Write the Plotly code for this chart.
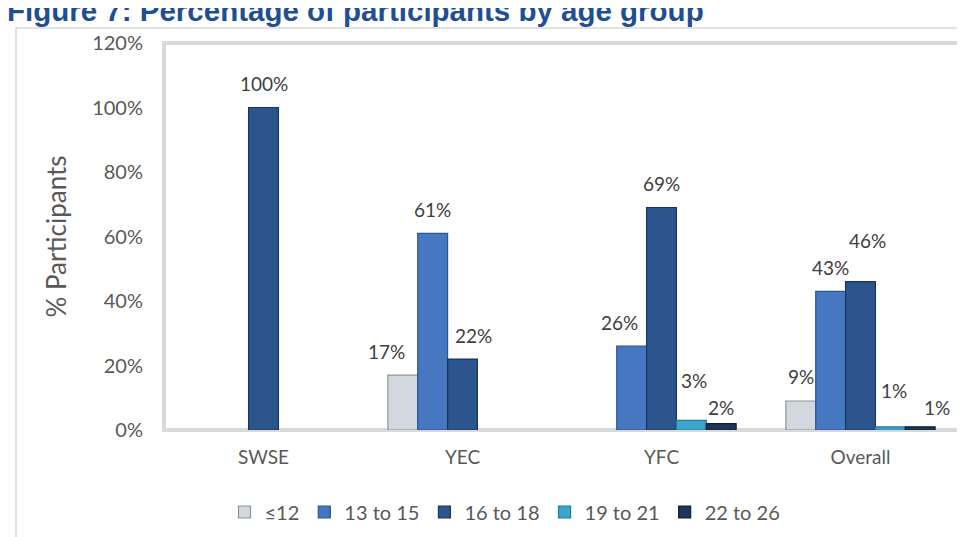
import plotly.graph_objects as go

# ---- data ----
categories = ["SWSE", "YEC", "YFC", "Overall"]
series_names = ["≤12", "13 to 15", "16 to 18", "19 to 21", "22 to 26"]
age_le12 = [0, 17, 0, 9]
age_13_15 = [0, 61, 26, 43]
age_16_18 = [100, 22, 69, 46]
age_19_21 = [0, 0, 3, 1]
age_22_26 = [0, 0, 2, 1]
y_tick_values = [0, 20, 40, 60, 80, 100, 120]
y_tick_labels = ["0%", "20%", "40%", "60%", "80%", "100%", "120%"]
title_text = "Figure 7: Percentage of participants by age group"
y_title = "% Participants"

series_values = [age_le12, age_13_15, age_16_18, age_19_21, age_22_26]

# ---- styles ----
fills = ["#D3D7DE", "#4678C2", "#2C558E", "#3AA6CB", "#1E3659"]
edges = ["#8E949C", "#2A5596", "#19345E", "#227A99", "#101E33"]
FONT = "Lato"

W, H = 965, 537
L, R, T, B = 156, 13, 35, 115
PW, PH = W - L - R, H - T - B
BARGAP = 0.25
bar_px = PW / len(categories) * (1 - BARGAP) / len(series_names)

# manual label nudges (px) like the hand-placed labels of the original
label_nudge = {
    (0, 1): (-16, 0),
    (2, 1): (11, 0),
    (1, 2): (-12, 0),
    (3, 2): (3, 16),
    (4, 2): (0, -8),
    (2, 3): (7, 17),
    (3, 3): (4, 12),
    (4, 3): (17, -5),
}

fig = go.Figure()
for i, (name, vals) in enumerate(zip(series_names, series_values)):
    fig.add_trace(go.Bar(
        name=name, x=categories, y=[v if v else None for v in vals],
        marker=dict(color=fills[i], line=dict(color=edges[i], width=1.2)),
        hoverinfo="skip",
    ))

annotations = []
for i, vals in enumerate(series_values):
    for j, v in enumerate(vals):
        if not v:
            continue
        nx, ny = label_nudge.get((i, j), (0, 0))
        annotations.append(dict(
            x=categories[j], y=v, xref="x", yref="y",
            xshift=(i - (len(series_names) - 1) / 2) * bar_px + nx,
            yshift=24 + ny, yanchor="middle", xanchor="center",
            text=f"{v}%", showarrow=False,
            font=dict(family=FONT, size=19, color="#404040"),
        ))

def px_x(p):
    return (p - L) / PW

def px_y(p):
    return (H - B - p) / PH

annotations.append(dict(
    x=px_x(-3), y=px_y(2), xref="paper", yref="paper",
    xanchor="left", yanchor="middle", showarrow=False,
    text=f"<b>{title_text}</b>",
    font=dict(family="Liberation Sans", size=29.5, color="#1F4E96"),
))

shapes = [
    # outer chart border
    dict(type="rect", xref="paper", yref="paper",
         x0=px_x(8), x1=px_x(962), y0=px_y(560), y1=px_y(20),
         line=dict(color="#D9D9D9", width=1.5), layer="below"),
    # plot frame
    dict(type="rect", xref="paper", yref="paper", x0=0, x1=1, y0=0, y1=1,
         line=dict(color="#D9D9D9", width=4), layer="below"),
]

fig.update_layout(
    width=W, height=H,
    margin=dict(l=L, r=R, t=T, b=B),
    paper_bgcolor="white", plot_bgcolor="white",
    barmode="group", bargap=BARGAP, bargroupgap=0,
    font=dict(family=FONT, size=19, color="#595959"),
    showlegend=True,
    legend=dict(orientation="h", x=px_x(497), y=px_y(504),
                xanchor="center", yanchor="middle",
                font=dict(family=FONT, size=20, color="#595959"),
                itemwidth=30, traceorder="normal"),
    annotations=annotations, shapes=shapes,
    xaxis=dict(showline=False, showgrid=False, zeroline=False, ticks="",
               ticklabelstandoff=14, tickfont=dict(size=19, color="#595959")),
    yaxis=dict(range=[0, 120], tickvals=y_tick_values, ticktext=y_tick_labels,
               showgrid=False, zeroline=False, showline=False, ticks="",
               ticklabelstandoff=20,
               tickfont=dict(size=20, color="#595959"),
               title=dict(text=y_title, standoff=18,
                          font=dict(family=FONT, size=26, color="#595959"))),
)

fig.write_html("out.html")
